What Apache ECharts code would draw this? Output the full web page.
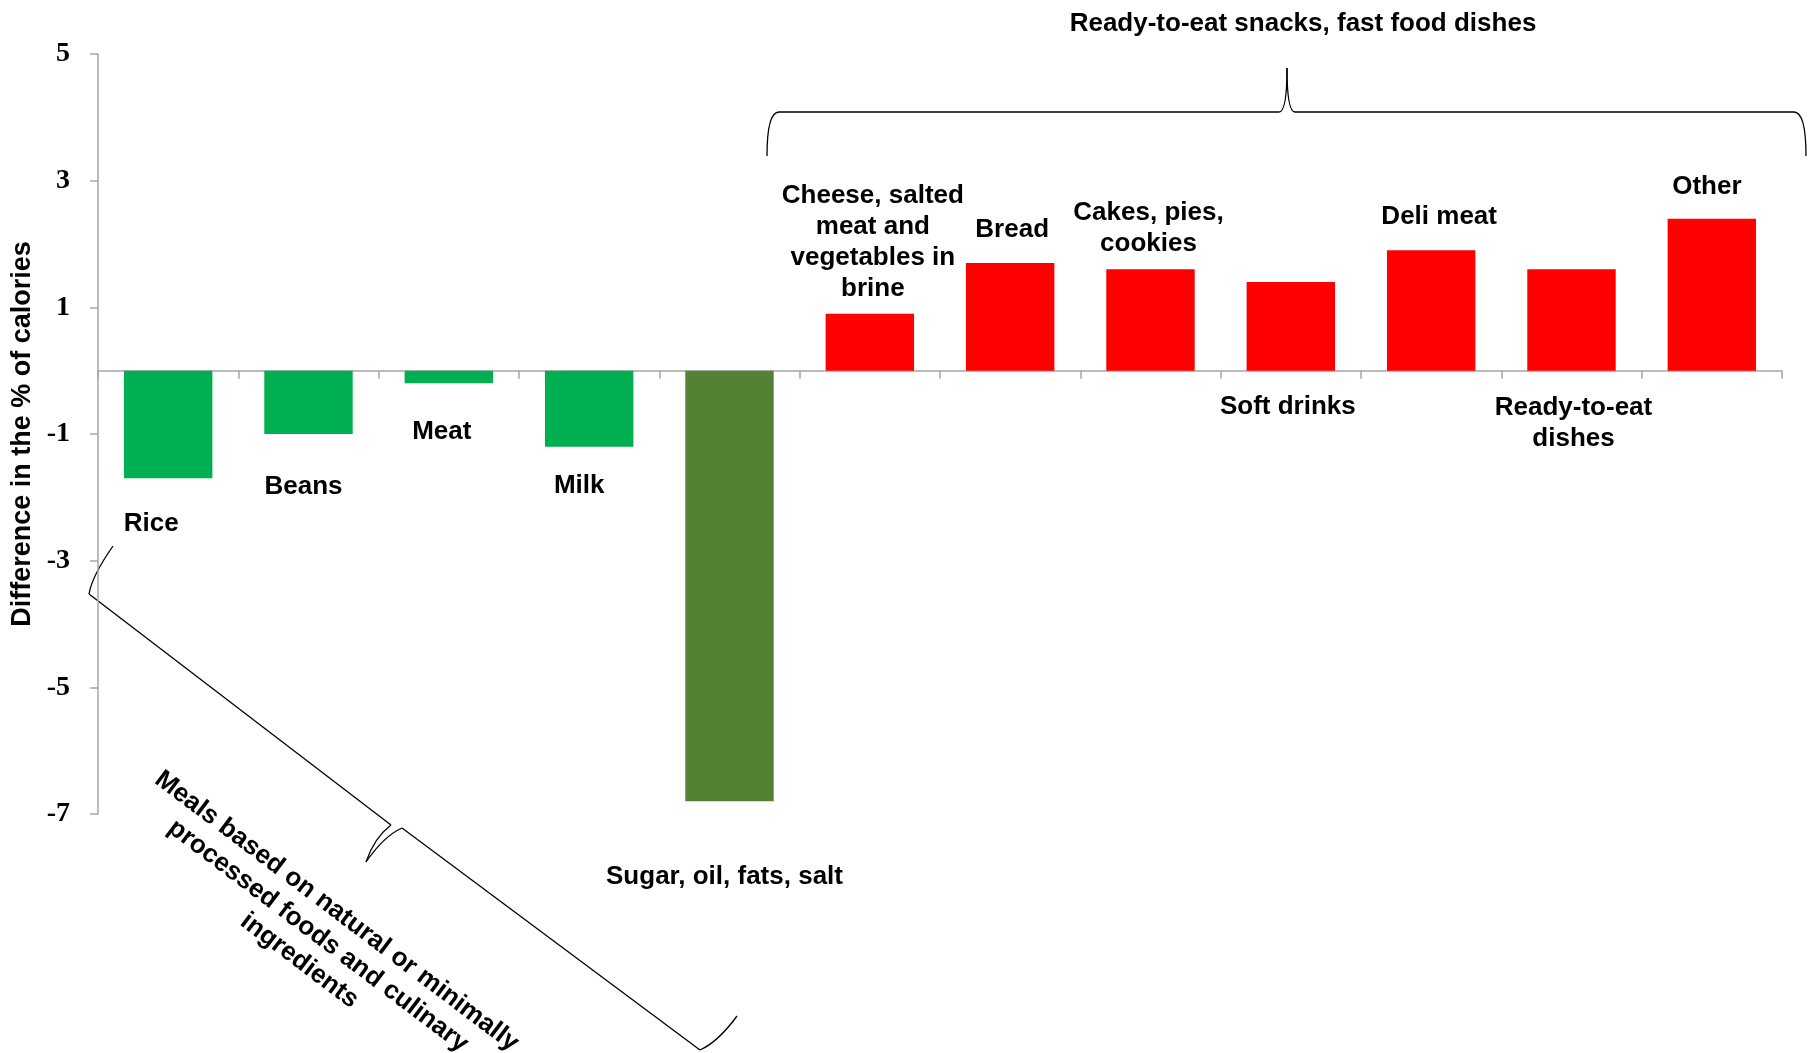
<!DOCTYPE html>
<html>
<head>
<meta charset="utf-8">
<script src="https://cdn.jsdelivr.net/npm/echarts@6/dist/echarts.min.js"></script>
<style>
html,body{margin:0;padding:0;background:#fff;}
#chart{width:1815px;height:1053px;}
</style>
</head>
<body>
<div id="chart"></div>
<script>
// ---- data ----
const categories = ['Rice', 'Beans', 'Meat', 'Milk', 'Sugar, oil, fats, salt',
  'Cheese, salted meat and vegetables in brine', 'Bread', 'Cakes, pies, cookies',
  'Soft drinks', 'Deli meat', 'Ready-to-eat dishes', 'Other'];
const values = [-1.7, -1.0, -0.2, -1.2, -6.8, 0.9, 1.7, 1.6, 1.4, 1.9, 1.6, 2.4];
const labelTexts = ['Rice', 'Beans', 'Meat', 'Milk', 'Sugar, oil, fats, salt',
  'Cheese, salted\nmeat and\nvegetables in\nbrine', 'Bread', 'Cakes, pies,\ncookies',
  'Soft drinks', 'Deli meat', 'Ready-to-eat\ndishes', 'Other'];
const groups = ['natural', 'natural', 'natural', 'natural', 'culinary',
  'processed', 'processed', 'processed', 'processed', 'processed', 'processed', 'processed'];
const yTicks = [-7, -5, -3, -1, 1, 3, 5];
const groupTitleTop = 'Ready-to-eat snacks, fast food dishes';
const groupTitleBottom = 'Meals based on natural or minimally\nprocessed foods and culinary\ningredients';
const yAxisTitle = 'Difference in the % of calories';

// ---- styles ----
const groupColors = { natural: '#00B050', culinary: '#548235', processed: '#FF0000' };
const labelOffsets = [[-17, 25], [-5, 32], [-7, 28], [-10, 19], [-5, 55],
  [3, -4], [2, -13], [-2, -5], [-3, 145], [8, -13], [2, 190], [-5, -11]];
const SANS = '"Liberation Sans", Arial, sans-serif';
const SERIF = '"Liberation Serif", "Times New Roman", serif';
const AXIS_GRAY = '#A6A6A6';
const BRACE = { stroke: '#000', lineWidth: 1.3, fill: null };

function curve(x1, y1, cx, cy, x2, y2) {
  return { type: 'bezierCurve', shape: { x1, y1, cpx1: cx, cpy1: cy, x2, y2 }, style: BRACE, silent: true };
}
function seg(x1, y1, x2, y2) {
  return { type: 'line', shape: { x1, y1, x2, y2 }, style: BRACE, silent: true };
}

const chart = echarts.init(document.getElementById('chart'), null, { renderer: 'canvas' });

const seriesData = values.map((v, i) => ({
  value: v,
  itemStyle: { color: groupColors[groups[i]] },
  label: { offset: labelOffsets[i] }
}));

const option = {
  animation: false,
  backgroundColor: '#ffffff',
  grid: { left: 98, right: 33, top: 54, bottom: 239, containLabel: false, outerBoundsMode: 'none' },
  xAxis: {
    type: 'category',
    data: categories,
    axisLine: { onZero: true, lineStyle: { color: AXIS_GRAY, width: 1.5 } },
    axisTick: { show: true, interval: 0, length: 8, lineStyle: { color: AXIS_GRAY, width: 1.5 } },
    axisLabel: { show: false },
    splitLine: { show: false }
  },
  yAxis: {
    type: 'value',
    min: -7, max: 5, interval: 2,
    name: yAxisTitle,
    nameLocation: 'middle',
    nameGap: 58,
    nameRotate: 90,
    nameTextStyle: { fontFamily: SANS, fontWeight: 'bold', fontSize: 27, color: '#000' },
    axisLine: { show: true, lineStyle: { color: AXIS_GRAY, width: 1.5 } },
    axisTick: { show: true, length: 8, lineStyle: { color: AXIS_GRAY, width: 1.5 } },
    axisLabel: {
      margin: 28,
      fontFamily: SERIF, fontWeight: 'bold', fontSize: 28, color: '#000',
      formatter: (v) => (yTicks.indexOf(v) >= 0 ? String(v) : '')
    },
    splitLine: { show: false }
  },
  series: [{
    type: 'bar',
    data: seriesData,
    barCategoryGap: '37%',
    label: {
      show: true,
      position: 'outside',
      distance: 5,
      formatter: (p) => labelTexts[p.dataIndex],
      fontFamily: SANS, fontWeight: 'bold', fontSize: 26, lineHeight: 31,
      color: '#000', align: 'center'
    }
  }],
  graphic: [
    {
      type: 'text', x: 1303, y: 24,
      style: { text: groupTitleTop, font: 'bold 26px ' + SANS, fill: '#000',
        textAlign: 'center', textVerticalAlign: 'middle' }
    },
    // top brace
    curve(767, 156, 767, 112, 779, 112),
    seg(779, 112, 1279, 112),
    curve(1279, 112, 1287, 112, 1287, 68),
    curve(1287, 68, 1287, 112, 1295, 112),
    seg(1295, 112, 1794, 112),
    curve(1794, 112, 1806, 112, 1806, 156),
    // bottom-left brace
    curve(113, 546, 92, 576, 89, 594),
    seg(89, 594, 391, 825),
    curve(391, 825, 374, 838, 366, 862),
    curve(366, 862, 384, 836, 402, 828),
    seg(402, 828, 700, 1050),
    curve(700, 1050, 718, 1042, 737, 1016),
    {
      type: 'text', x: 318, y: 936, rotation: -37 * Math.PI / 180,
      style: { text: groupTitleBottom, font: 'bold 26px ' + SANS, fill: '#000',
        textAlign: 'center', textVerticalAlign: 'middle', lineHeight: 31 }
    }
  ]
};
chart.setOption(option);
</script>
</body>
</html>
